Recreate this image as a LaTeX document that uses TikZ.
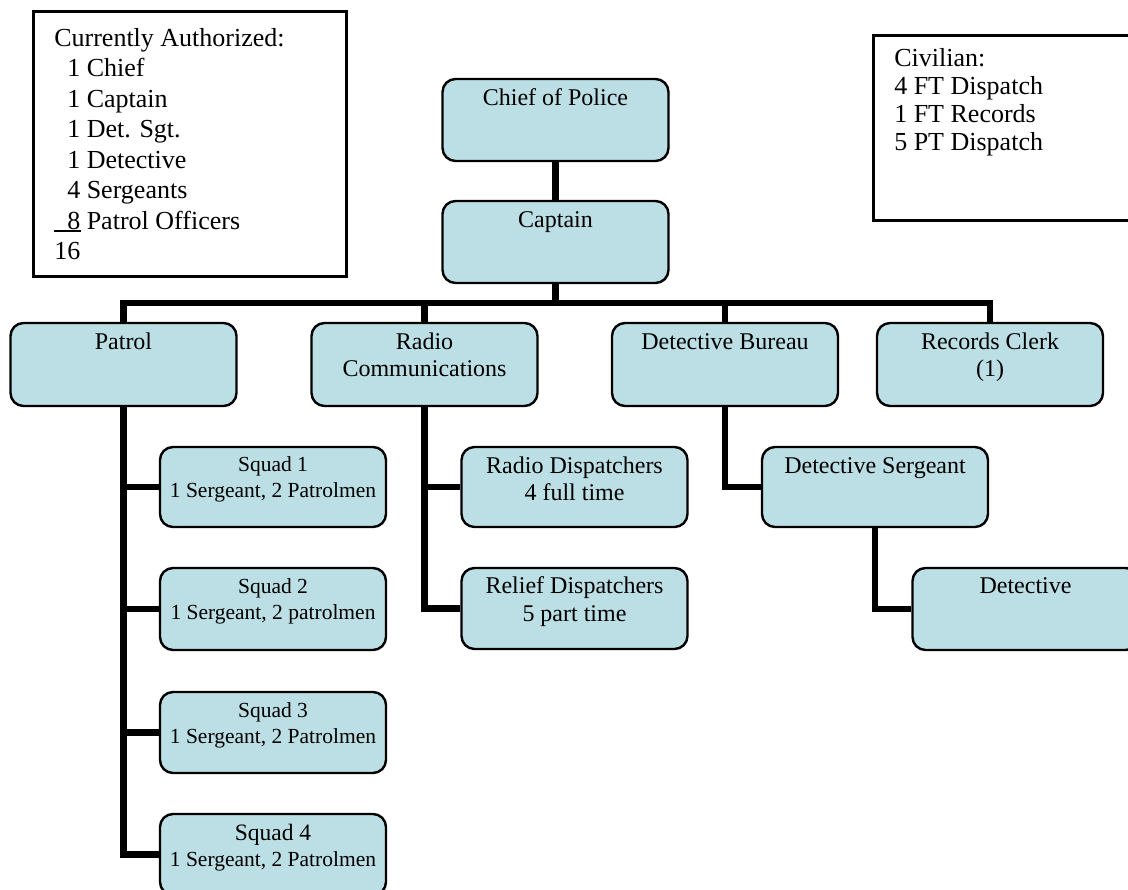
\documentclass[tikz,border=0pt]{standalone}
\usepackage{fontspec}
\setmainfont{Liberation Serif}
\usetikzlibrary{backgrounds}

\definecolor{boxfill}{RGB}{187,223,228}

\tikzset{
  orgbox/.style={draw=black, line width=2.4pt, fill=boxfill, rounded corners=13pt,
    inner sep=0pt, font=\fontsize{24}{27}\selectfont},
  squadbox/.style={orgbox, font=\fontsize{21.5}{26}\selectfont},
  notebox/.style={draw=black, line width=2.6pt, inner sep=0pt, anchor=north west,
    font=\fontsize{26}{30.5}\selectfont},
  link/.style={draw=black, line width=6.5pt}
}

% box contents: height, first baseline below the top edge, text
\newcommand\orgtext[3]{\parbox[c][#1pt][t]{226pt}{\centering\rule{0pt}{#2pt}#3\par}}

\begin{document}
\begin{tikzpicture}[x=1pt,y=-1pt]
\useasboundingbox (0,0) rectangle (1128,890);
\clip (0,0) rectangle (1128,890);

% staffing summaries
\node[notebox] (authorized) at (32,10) {\parbox[c][265pt][t]{313pt}{\leftskip=21pt
  \rule{0pt}{35pt}Currently Authorized:\\
  \phantom{1}1 Chief\\
  \phantom{1}1 Captain\\
  \phantom{1}1 Det. Sgt.\\
  \phantom{1}1 Detective\\
  \phantom{1}4 Sergeants\\
  \rlap{\rule[-2.5pt]{27pt}{2pt}}\phantom{1}8 Patrol Officers\\
  16\par}};

\node[notebox] (civilian) at (872,34) {\parbox[c][185pt][t]{268pt}{\leftskip=21pt
  \fontsize{26}{28}\selectfont
  \rule{0pt}{31pt}Civilian:\\
  4 FT Dispatch\\
  1 FT Records\\
  5 PT Dispatch\par}};

% command staff
\node[orgbox] (chief)   at (555.5,120) {\orgtext{82}{27}{Chief of Police}};
\node[orgbox] (captain) at (555.5,242) {\orgtext{82}{27}{Captain}};

% divisions
\node[orgbox] (patrol)  at (123.5,364.5) {\orgtext{83}{27}{Patrol}};
\node[orgbox] (radio)   at (424.5,364.5) {\orgtext{83}{27}{Radio\\Communications}};
\node[orgbox] (bureau)  at (725,364.5)   {\orgtext{83}{27}{Detective Bureau}};
\node[orgbox] (records) at (990,364.5)   {\orgtext{83}{27}{Records Clerk\\(1)}};

% patrol squads
\node[squadbox] (squad1) at (273,487)   {\orgtext{80}{25}{Squad 1\\1 Sergeant, 2 Patrolmen}};
\node[squadbox] (squad2) at (273,609)   {\orgtext{82}{25}{Squad 2\\1 Sergeant, 2 patrolmen}};
\node[squadbox] (squad3) at (273,732.5) {\orgtext{81}{25}{Squad 3\\1 Sergeant, 2 Patrolmen}};
\node[squadbox] (squad4) at (273,854.5) {\orgtext{81}{26}{{\fontsize{23.5}{26}\selectfont Squad 4}\\1 Sergeant, 2 Patrolmen}};

% dispatch
\node[orgbox] (dispatch) at (574.5,487)   {\orgtext{80}{26}{Radio Dispatchers\\4 full time}};
\node[orgbox] (relief)   at (574.5,608.5) {\orgtext{81}{26}{Relief Dispatchers\\5 part time}};

% detectives
\node[orgbox] (detsgt)    at (875,487)    {\orgtext{80}{26}{Detective Sergeant}};
\node[orgbox] (detective) at (1025.5,609) {\orgtext{82}{26}{Detective}};

% reporting lines
\begin{scope}[on background layer]
  \draw[link] (chief.south) -- (captain.north);
  \draw[link] (captain.south) -- ++(0,19) coordinate (bus);
  \draw[link] (patrol.north) |- (bus) -| (records.north);
  \draw[link] (radio.north) -- (radio.north |- bus);
  \draw[link] (bureau.north) -- (bureau.north |- bus);

  \draw[link] (patrol.south) |- (squad4.west);
  \foreach \s in {squad1,squad2,squad3}
    \draw[link] (patrol.south |- \s.west) -- (\s.west);

  \draw[link] (radio.south) |- (relief.west);
  \draw[link] (radio.south |- dispatch.west) -- (dispatch.west);

  \draw[link] (bureau.south) |- (detsgt.west);
  \draw[link] (detsgt.south) |- (detective.west);
\end{scope}
\end{tikzpicture}
\end{document}
